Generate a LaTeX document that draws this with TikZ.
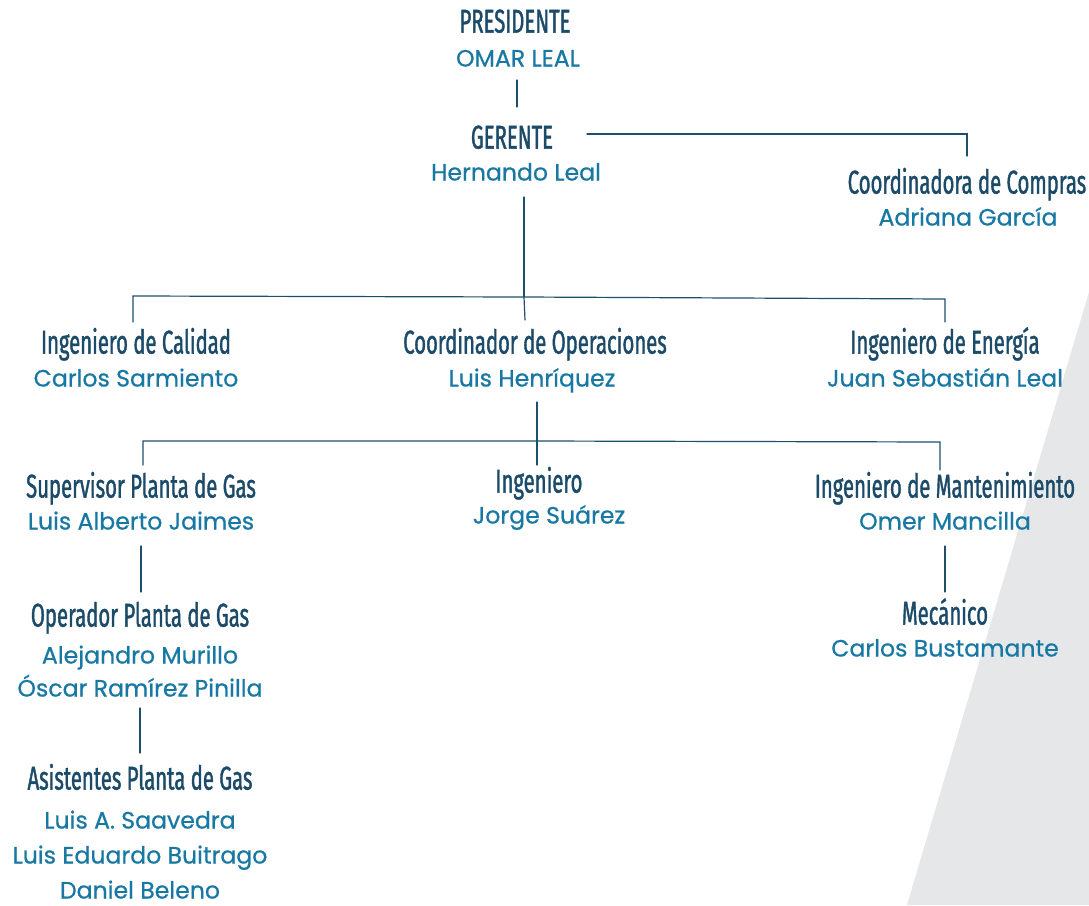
\documentclass[tikz,border=0pt]{standalone}
\usepackage{fontspec}
\newfontfamily\titlefont[FakeStretch=0.615,FakeBold=1.2]{Fira Sans}
\newfontfamily\namefont[FakeBold=0.7]{Poppins}
\definecolor{titleblue}{HTML}{1C4B69}
\definecolor{nameblue}{HTML}{1878A4}
\definecolor{linecol}{HTML}{1D4F6D}
\definecolor{greybg}{HTML}{E6E7E9}
\tikzset{
  ttl/.style={text=titleblue,font=\titlefont\fontsize{33}{35}\selectfont,inner sep=0pt,anchor=center,text height=0.72em,text depth=0.2em},
  nm/.style={text=nameblue,font=\namefont\fontsize{23.6}{26}\selectfont,inner sep=0pt,anchor=center,text height=0.75em,text depth=0.25em},
  conn/.style={draw=linecol,line width=1.2pt,line cap=round},
}
\begin{document}
\begin{tikzpicture}[x=1pt,y=-1pt]
\useasboundingbox (0,0) rectangle (1089,905);
\fill[greybg] (1089,292) -- (907,905) -- (1089,905) -- cycle;

% nodes
\node[ttl] (pres) at (515,30) {PRESIDENTE};
\node[nm] (omar) at (518,64) {OMAR LEAL};
\node[ttl] (ger) at (512,146) {GERENTE};
\node[nm] (hern) at (516,178) {Hernando Leal};
\node[ttl] (coc) at (967,191) {Coordinadora de Compras};
\node[nm] (adri) at (968,223) {Adriana García};
\node[ttl] (cal) at (136,351) {Ingeniero de Calidad};
\node[nm] (carl) at (136,384) {Carlos Sarmiento};
\node[ttl] (cop) at (535,351) {Coordinador de Operaciones};
\node[nm] (luish) at (532,384) {Luis Henríquez};
\node[ttl] (ene) at (945,351) {Ingeniero de Energía};
\node[nm] (juan) at (945,384) {Juan Sebastián Leal};
\node[ttl] (sup) at (141,495) {Supervisor Planta de Gas};
\node[nm] (luisa) at (141,527) {Luis Alberto Jaimes};
\node[ttl] (ing) at (539,490) {Ingeniero};
\node[nm] (jorge) at (549,521) {Jorge Suárez};
\node[ttl] (man) at (945,495) {Ingeniero de Mantenimiento};
\node[nm] (omer) at (945,527) {Omer Mancilla};
\node[ttl] (ope) at (140,624) {Operador Planta de Gas};
\node[nm] (ale) at (140,661) {Alejandro Murillo};
\node[nm] (osc) at (140,694) {Óscar Ramírez Pinilla};
\node[ttl] (asi) at (140,787) {Asistentes Planta de Gas};
\node[nm] (sav) at (140,826) {Luis A. Saavedra};
\node[nm] (bui) at (140,861) {Luis Eduardo Buitrago};
\node[nm] (bel) at (140,896) {Daniel Beleno};
\node[ttl] (mec) at (945,622) {Mecánico};
\node[nm] (bus) at (945,654) {Carlos Bustamante};

% junction coordinates
\coordinate (p1) at (517,80);
\coordinate (p2) at (517,107);
\coordinate (g1) at (587,134);
\coordinate (g2) at (967,134);
\coordinate (g3) at (967,156);
\coordinate (h1) at (524,197);
\coordinate (h2) at (524,297);
\coordinate (hl) at (133,296);
\coordinate (hl2) at (133,322);
\coordinate (hm) at (525,320);
\coordinate (hr) at (945,299);
\coordinate (hr2) at (945,322);
\coordinate (o1) at (537,402);
\coordinate (o2) at (537,441);
\coordinate (ol) at (143,441);
\coordinate (ol2) at (143,465);
\coordinate (om) at (537,465);
\coordinate (or) at (940,442);
\coordinate (or2) at (940,470);
\coordinate (s1) at (141,546);
\coordinate (s2) at (141,592);
\coordinate (q1) at (140,708);
\coordinate (q2) at (140,753);
\coordinate (m1) at (945,546);
\coordinate (m2) at (945,592);

% connectors
\draw[conn] (p1) -- (p2);
\draw[conn] (g1) -- (g2) -- (g3);
\draw[conn] (h1) -- (h2);
\draw[conn] (hl2) -- (hl) -- (h2) -- (hr) -- (hr2);
\draw[conn] (h2) -- (hm);
\draw[conn] (o1) -- (o2);
\draw[conn] (ol2) -- (ol) -- (o2) -- (or) -- (or2);
\draw[conn] (o2) -- (om);
\draw[conn] (s1) -- (s2);
\draw[conn] (q1) -- (q2);
\draw[conn] (m1) -- (m2);
\end{tikzpicture}
\end{document}
